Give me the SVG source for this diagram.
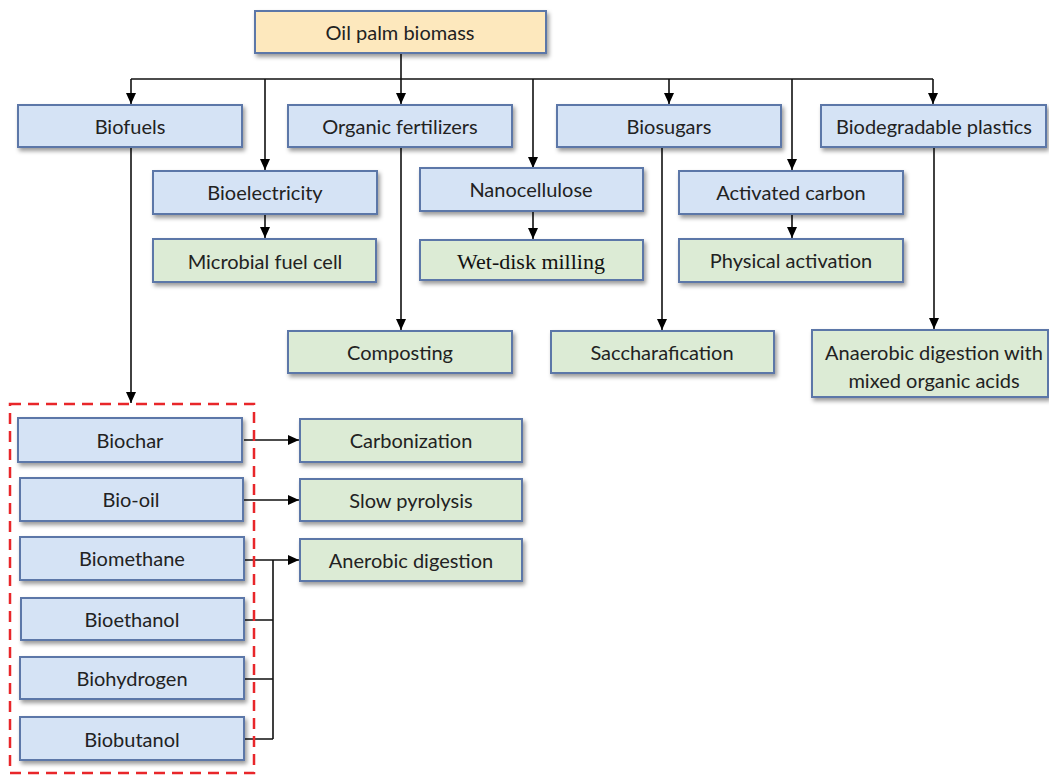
<svg xmlns="http://www.w3.org/2000/svg" width="1049" height="777" viewBox="0 0 1049 777">
<style>
.b{fill:#d5e3f5;stroke:#5b77a8;stroke-width:2;filter:url(#sh)}
.g{fill:#dcebd5;stroke:#5b77a8;stroke-width:2;filter:url(#sh)}
.y{fill:#fde8bd;stroke:#5b77a8;stroke-width:2;filter:url(#sh)}
text{font-family:Lato,"Open Sans","Liberation Sans",sans-serif;font-size:20px;fill:#222;text-anchor:middle;dominant-baseline:central}
.ser{font-family:"Liberation Serif","DejaVu Serif",serif;font-size:22px;fill:#111}
.c{fill:none;stroke:#111;stroke-width:1.6}
.dash{fill:none;stroke:#e8262a;stroke-width:2.5;stroke-dasharray:11 7}
</style>
<defs>
<filter id="sh" x="-10%" y="-20%" width="120%" height="150%">
<feDropShadow dx="2" dy="3" stdDeviation="2.2" flood-color="#000" flood-opacity="0.4"/>
</filter>
<marker id="a" markerWidth="12" markerHeight="12" refX="11" refY="6" orient="auto" markerUnits="userSpaceOnUse">
<path d="M0,1 L11,6 L0,11 Z" fill="#000"/>
</marker>
</defs>
<rect width="1049" height="777" fill="#fff"/>
<g id="connectors">
<path class="c" d="M401,53 V79" stroke-width="2.5"/>
<path class="c" d="M131,79 H933" stroke-width="2"/>
<path class="c" d="M131,79 V104" marker-end="url(#a)"/>
<path class="c" d="M265,79 V170" marker-end="url(#a)"/>
<path class="c" d="M401,79 V104" marker-end="url(#a)"/>
<path class="c" d="M533,79 V168" marker-end="url(#a)"/>
<path class="c" d="M669,79 V104" marker-end="url(#a)"/>
<path class="c" d="M792,79 V170" marker-end="url(#a)"/>
<path class="c" d="M933,79 V104" marker-end="url(#a)"/>
<path class="c" d="M265,214 V238" marker-end="url(#a)"/>
<path class="c" d="M533,211 V239" marker-end="url(#a)"/>
<path class="c" d="M792,214 V238" marker-end="url(#a)"/>
<path class="c" d="M401,147 V330" marker-end="url(#a)"/>
<path class="c" d="M662,147 V330" marker-end="url(#a)"/>
<path class="c" d="M934,147 V329" marker-end="url(#a)"/>
<path class="c" d="M131,147 V403" marker-end="url(#a)"/>
<path class="c" d="M244,440 H299" marker-end="url(#a)"/>
<path class="c" d="M244,500 H299" marker-end="url(#a)"/>
<path class="c" d="M244,560 H299" marker-end="url(#a)"/>
<path class="c" d="M273,560 V739 M244,620 H273 M244,679 H273 M244,739 H273"/>
</g>
<g id="oil-palm-biomass"><rect class="y" x="255" y="11" width="291" height="42"/><text x="400" y="32">Oil palm biomass</text></g>
<g id="biofuels"><rect class="b" x="18" y="105" width="224" height="42"/><text x="130" y="126">Biofuels</text></g>
<g id="organic-fertilizers"><rect class="b" x="288" y="105" width="224" height="42"/><text x="400" y="126">Organic fertilizers</text></g>
<g id="biosugars"><rect class="b" x="557" y="105" width="224" height="42"/><text x="669" y="126">Biosugars</text></g>
<g id="biodegradable-plastics"><rect class="b" x="821" y="105" width="225" height="42"/><text x="934" y="126">Biodegradable plastics</text></g>
<g id="bioelectricity"><rect class="b" x="153" y="171" width="224" height="43"/><text x="265" y="192">Bioelectricity</text></g>
<g id="nanocellulose"><rect class="b" x="420" y="168" width="223" height="43"/><text x="531" y="189">Nanocellulose</text></g>
<g id="activated-carbon"><rect class="b" x="679" y="171" width="224" height="43"/><text x="791" y="192">Activated carbon</text></g>
<g id="microbial-fuel-cell"><rect class="g" x="153" y="239" width="223" height="43"/><text x="265" y="261">Microbial fuel cell</text></g>
<g id="wet-disk-milling"><rect class="g" x="420" y="240" width="223" height="40"/><text class="ser" x="531" y="261">Wet-disk milling</text></g>
<g id="physical-activation"><rect class="g" x="679" y="239" width="224" height="43"/><text x="791" y="260">Physical activation</text></g>
<g id="composting"><rect class="g" x="288" y="331" width="224" height="42"/><text x="400" y="352">Composting</text></g>
<g id="saccharafication"><rect class="g" x="551" y="331" width="223" height="42"/><text x="662" y="352">Saccharafication</text></g>
<g id="anaerobic-mixed"><rect class="g" x="812" y="330" width="236" height="67"/><text x="934" y="352">Anaerobic digestion with</text><text x="934" y="380">mixed organic acids</text></g>
<g id="biofuels-group"><rect class="dash" x="10" y="404" width="244" height="369"/></g>
<g id="biochar"><rect class="b" x="18" y="418" width="224" height="44"/><text x="130" y="440">Biochar</text></g>
<g id="bio-oil"><rect class="b" x="20" y="478" width="223" height="43"/><text x="131" y="499">Bio-oil</text></g>
<g id="biomethane"><rect class="b" x="20" y="537" width="224" height="43"/><text x="132" y="558">Biomethane</text></g>
<g id="bioethanol"><rect class="b" x="21" y="598" width="223" height="42"/><text x="132" y="619">Bioethanol</text></g>
<g id="biohydrogen"><rect class="b" x="20" y="657" width="224" height="42"/><text x="132" y="678">Biohydrogen</text></g>
<g id="biobutanol"><rect class="b" x="20" y="717" width="224" height="43"/><text x="132" y="739">Biobutanol</text></g>
<g id="carbonization"><rect class="g" x="300" y="419" width="222" height="43"/><text x="411" y="440">Carbonization</text></g>
<g id="slow-pyrolysis"><rect class="g" x="300" y="479" width="222" height="42"/><text x="411" y="500">Slow pyrolysis</text></g>
<g id="anerobic-digestion"><rect class="g" x="300" y="539" width="222" height="42"/><text x="411" y="560">Anerobic digestion</text></g>
</svg>
